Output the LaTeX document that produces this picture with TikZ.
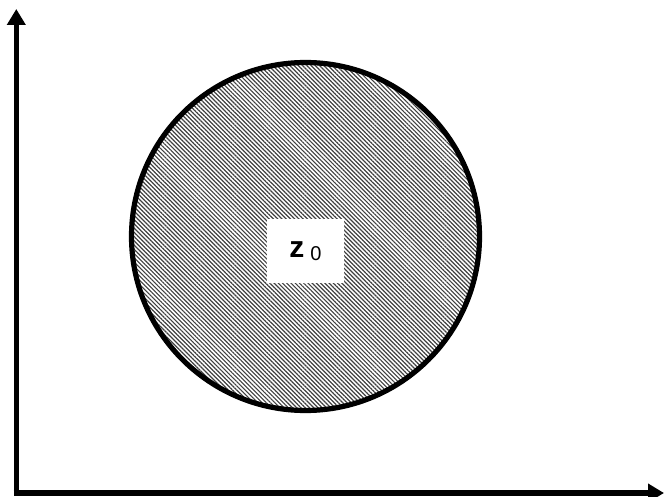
\documentclass[tikz,border=0pt]{standalone}
\usepackage{fontspec}
\setmainfont{Liberation Sans}
\usetikzlibrary{arrows.meta,patterns.meta}
\begin{document}
\begin{tikzpicture}[x=1pt,y=-1pt,
  axis/.style={line width=5.5pt,-{Triangle[width=18pt,length=16pt]}},
  disc/.style={line width=5.2pt,draw=black,pattern={Lines[angle=-45,distance=3pt,line width=1.2pt]},pattern color=black!75},
  label/.style={fill=white,minimum width=77pt,minimum height=64pt,inner sep=0pt}]
\useasboundingbox (0,0) rectangle (664,497);
\coordinate (o) at (16.3,493);
\coordinate (ytip) at (16.3,9);
\coordinate (xtip) at (664,493);
\draw[axis] ([yshift=2.7pt]o) -- (ytip);
\draw[axis] ([xshift=-2.7pt]o) -- (xtip);
\node[disc,circle,minimum size=348pt,inner sep=0pt] (c) at (305.5,236.5) {};
\node[label] (z) at (305.5,251) {\fontsize{30}{30}\selectfont\bfseries z\hspace{6pt}\raisebox{-3.5pt}{\mdseries\fontsize{20}{20}\selectfont 0}};
\end{tikzpicture}
\end{document}
